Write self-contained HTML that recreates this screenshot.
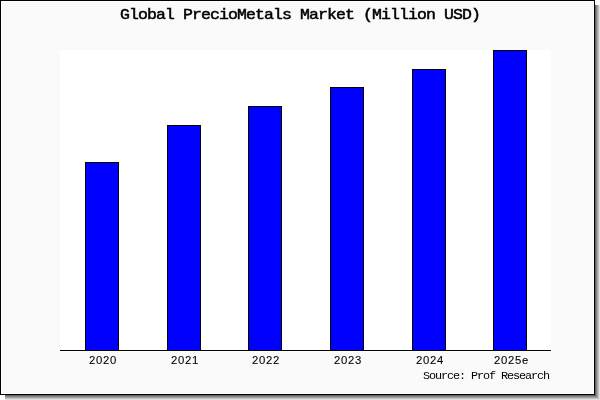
<!DOCTYPE html>
<html><head><meta charset="utf-8">
<style>
html,body{margin:0;padding:0;}
body{width:600px;height:400px;position:relative;overflow:hidden;background:#fff;}
svg{position:absolute;left:0;top:0;}
.t{position:absolute;white-space:pre;color:#000;line-height:1;will-change:transform;-webkit-font-smoothing:antialiased;}
.title{font-family:"Liberation Mono",monospace;font-weight:normal;font-size:15px;letter-spacing:-0.818px;transform:scaleX(1.1);transform-origin:0 0;-webkit-text-stroke:0.5px #000;}
.xl{font-family:"Liberation Sans",sans-serif;font-size:11.3px;letter-spacing:0.7px;-webkit-text-stroke:0.1px #000;}
.src{font-family:"Liberation Mono",monospace;font-size:11.8px;letter-spacing:-1.08px;}
</style></head>
<body>
<svg width="600" height="400" shape-rendering="crispEdges">
  <!-- shadow -->
  <rect x="595" y="5" width="1" height="395" fill="#666666"/>
  <rect x="596" y="5" width="1" height="395" fill="#858585"/>
  <rect x="597" y="5" width="1" height="395" fill="#a3a3a3"/>
  <rect x="598" y="5" width="1" height="395" fill="#c2c2c2"/>
  <rect x="599" y="5" width="1" height="395" fill="#e0e0e0"/>
  <rect x="5" y="395" width="591" height="1" fill="#666666"/>
  <rect x="5" y="396" width="592" height="1" fill="#858585"/>
  <rect x="5" y="397" width="593" height="1" fill="#a3a3a3"/>
  <rect x="5" y="398" width="594" height="1" fill="#c2c2c2"/>
  <rect x="5" y="399" width="595" height="1" fill="#e0e0e0"/>
  <!-- frame -->
  <rect x="0" y="0" width="595" height="395" fill="#000"/>
  <rect x="1" y="1" width="593" height="393" fill="#fff"/>
  <rect x="2" y="2" width="591" height="391" fill="#fafafa"/>
  <!-- plot -->
  <rect x="60" y="50" width="491" height="302" fill="#fff"/>
  <rect x="60" y="350" width="491" height="1" fill="#000"/>
  <!-- bars -->
  <rect x="85" y="162" width="34" height="189" fill="#000"/>
  <rect x="86" y="163" width="32" height="187" fill="#00f"/>
  <rect x="167" y="125" width="34" height="226" fill="#000"/>
  <rect x="168" y="126" width="32" height="224" fill="#00f"/>
  <rect x="248" y="106" width="34" height="245" fill="#000"/>
  <rect x="249" y="107" width="32" height="243" fill="#00f"/>
  <rect x="330" y="87" width="34" height="264" fill="#000"/>
  <rect x="331" y="88" width="32" height="262" fill="#00f"/>
  <rect x="412" y="69" width="34" height="282" fill="#000"/>
  <rect x="413" y="70" width="32" height="280" fill="#00f"/>
  <rect x="493" y="50" width="34" height="301" fill="#000"/>
  <rect x="494" y="51" width="32" height="299" fill="#00f"/>
</svg>
<div class="t title" style="left:120px;top:8px;">Global PrecioMetals Market (Million USD)</div>
<div class="t xl" style="left:88.8px;top:355px;">2020</div>
<div class="t xl" style="left:170.8px;top:355px;">2021</div>
<div class="t xl" style="left:251.8px;top:355px;">2022</div>
<div class="t xl" style="left:333.8px;top:355px;">2023</div>
<div class="t xl" style="left:415.8px;top:355px;">2024</div>
<div class="t xl" style="left:493.6px;top:355px;">2025e</div>
<div class="t src" style="left:423px;top:370.5px;">Source: Prof Research</div>
</body></html>
